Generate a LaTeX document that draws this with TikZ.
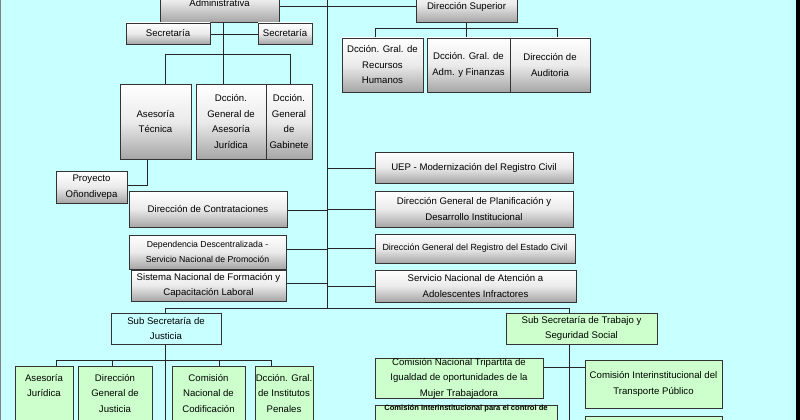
\documentclass[tikz,border=0pt]{standalone}
\usepackage{fontspec}
\setmainfont{Liberation Sans}
\begin{document}
\begin{tikzpicture}[x=1pt,y=-1pt,
  base/.style={draw=black!80,line width=0.8pt,inner sep=0pt,align=center,
    font=\fontsize{9.6}{15.5}\selectfont},
  gbox/.style={base,top color=white,bottom color=black!35,middle color=white!92!black},
  cbox/.style={base,fill=cyanbg},
  grbox/.style={base,fill=greenbox},
  ln/.style={draw=black!85,line width=0.8pt}]
\definecolor{cyanbg}{HTML}{C8FFFF}
\definecolor{greenbox}{HTML}{CCFFCC}
\newcommand{\bx}[7]{\node[#6,minimum width=#4-#2,minimum height=#5-#3] (#1) at ({(#2+#4)/2},{(#3+#5)/2}) {#7};}
\useasboundingbox (0,0) rectangle (800,420);
\fill[cyanbg] (0,0) rectangle (800,420);
\fill[black] (796,0) rectangle (800,420);
\draw[gray,line width=1pt] (0.5,0) -- (0.5,420);
% connectors first
\coordinate (top) at (327,0);
\coordinate (bot) at (327,308);
\draw[ln] (top) -- (bot);
\draw[ln] (279,6) -- (416,6);
\draw[ln] (223,22) -- (223,84);
\draw[ln] (210,34) -- (258,34);
\draw[ln] (165,84) -- (165,54) -- (290,54) -- (290,84);
\draw[ln] (147,159) -- (147,185) -- (127,185);
\draw[ln] (466,22) -- (466,28);
\draw[ln] (375,38) -- (375,28) -- (557,28) -- (557,38);
\draw[ln] (466,28) -- (466,38);
\foreach \y in {168,209,248,286} \draw[ln] (327,\y) -- (375,\y);
\foreach \y in {210,249,283} \draw[ln] (287,\y) -- (327,\y);
\draw[ln] (165,313) -- (165,308) -- (569,308) -- (569,313);
\draw[ln] (165,344) -- (165,420);
\draw[ln] (56,366) -- (56,360) -- (271,360) -- (271,366);
\draw[ln] (112,360) -- (112,366);
\draw[ln] (219,360) -- (219,366);
\draw[ln] (569,344) -- (569,420);
\draw[ln] (543,367) -- (585,367);
% boxes
\bx{dta}{160}{-20}{279}{22}{gbox}{{\fontsize{9.6}{15}\selectfont Dirección Técnica}\\{\fontsize{9.6}{15}\selectfont Administrativa}\\[-4pt]~}
\bx{sec1}{126}{23}{210}{44}{gbox}{Secretaría}
\bx{sec2}{258}{23}{312}{44}{gbox}{Secretaría}
\bx{ase}{120}{84}{191}{159}{gbox}{Asesoría\\Técnica}
\bx{dgaj}{196}{84}{266}{159}{gbox}{Dcción.\\General de\\Asesoría\\Jurídica}
\bx{dgg}{266}{84}{312}{159}{gbox}{Dcción.\\General\\de\\Gabinete}
\bx{proy}{56}{171}{127}{203}{gbox}{Proyecto\\Oñondivepa}
\bx{ds}{416}{-14}{517}{22}{gbox}{\\[-3pt]Dirección Superior}
\bx{rrhh}{342}{38}{423}{92}{gbox}{Dcción. Gral. de\\Recursos\\Humanos}
\bx{adm}{427}{38}{510}{92}{gbox}{Dcción. Gral. de\\Adm. y Finanzas}
\bx{aud}{510}{38}{590}{92}{gbox}{Dirección de\\Auditoria}
\bx{uep}{375}{152}{573}{183}{gbox}{UEP - Modernización del Registro Civil}
\bx{plan}{375}{191}{573}{227}{gbox}{Dirección General de Planificación y\\Desarrollo Institucional}
\bx{reg}{375}{234}{575}{263}{gbox}{{\fontsize{8.9}{12}\selectfont Dirección General del Registro del Estado Civil}}
\bx{ado}{375}{270}{576}{302}{gbox}{Servicio Nacional de Atención a\\Adolescentes Infractores}
\bx{contr}{129}{191}{287}{227}{gbox}{Dirección de Contrataciones}
\bx{dep}{129}{235}{286}{269}{gbox}{{\fontsize{8.7}{14}\selectfont Dependencia Descentralizada -}\\{\fontsize{8.7}{14}\selectfont Servicio Nacional de Promoción}}
\bx{sis}{131}{270}{286}{301}{gbox}{{\fontsize{9.6}{14}\selectfont Sistema Nacional de Formación y}\\{\fontsize{9.6}{14}\selectfont Capacitación Laboral}}
\bx{ssj}{111}{313}{221}{344}{cbox}{{\fontsize{9.6}{14}\selectfont Sub Secretaría de}\\{\fontsize{9.6}{14}\selectfont Justicia}}
\bx{sst}{506}{313}{657}{344}{grbox}{{\fontsize{9.6}{14}\selectfont Sub Secretaría de Trabajo y}\\{\fontsize{9.6}{14}\selectfont Seguridad Social}}
\bx{aj}{15}{366}{73}{436}{grbox}{Asesoría\\Jurídica\\~\\~}
\bx{dgj}{78}{366}{152}{436}{grbox}{Dirección\\General de\\Justicia\\~}
\bx{cod}{172}{366}{245}{436}{grbox}{Comisión\\Nacional de\\Codificación\\~}
\bx{ip}{255}{366}{313}{436}{grbox}{Dcción. Gral.\\de Institutos\\Penales\\~}
\bx{trip}{375}{359}{543}{397}{grbox}{{\fontsize{9.6}{12.5}\selectfont Comisión Nacional Tripartita de}\\{\fontsize{9.6}{12.5}\selectfont Igualdad de oportunidades de la}\\{\fontsize{9.6}{12.5}\selectfont Mujer Trabajadora}}
\bx{cic}{375}{407}{557}{440}{grbox}{{\fontsize{7.6}{8}\selectfont\bfseries Comisión Interinstitucional para el control de}\\~\\~}
\bx{cit}{585}{360}{722}{408}{grbox}{Comisión Interinstitucional del\\Transporte Público}
\bx{cx}{585}{416}{722}{440}{grbox}{~}
\end{tikzpicture}
\end{document}
